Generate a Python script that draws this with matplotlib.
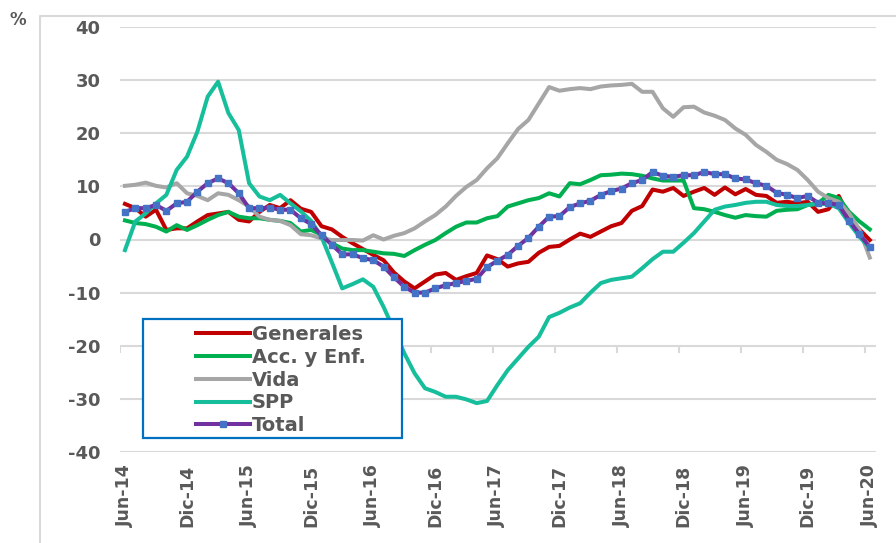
import matplotlib
matplotlib.use("Agg")
import matplotlib.pyplot as plt
from matplotlib.lines import Line2D
from matplotlib.patches import Rectangle

plt.rcParams["axes.unicode_minus"] = False

# monthly values, Jun-14 .. Jun-20 (one row per year, Jun..May)
generales = [6.7, 5.9, 4.3, 5.6, 1.8, 2.1, 2.1, 3.4, 4.6, 4.9, 5.2, 3.7,
             3.4, 5.2, 6.5, 5.9, 7.4, 5.8, 5.2, 2.5, 1.9, 0.5, -0.7, -1.8,
             -2.9, -3.9, -6.2, -7.9, -9.2, -7.9, -6.6, -6.3, -7.6, -6.9, -6.3, -3.0,
             -3.7, -5.1, -4.5, -4.2, -2.5, -1.4, -1.2, 0.0, 1.1, 0.5, 1.5, 2.5,
             3.1, 5.4, 6.3, 9.4, 9.0, 9.7, 8.2, 9.0, 9.7, 8.4, 9.8, 8.5,
             9.5, 8.4, 8.2, 6.9, 7.1, 6.8, 7.1, 5.2, 5.7, 8.2, 4.3, 1.9,
             -0.1]
acc_enf = [3.6, 3.1, 2.9, 2.4, 1.5, 2.7, 1.8, 2.7, 3.7, 4.6, 5.2, 4.3,
           4.0, 4.0, 3.7, 3.5, 3.1, 1.5, 1.8, 0.9, -0.7, -1.7, -2.0, -2.0,
           -2.3, -2.6, -2.7, -3.1, -2.0, -1.0, -0.1, 1.2, 2.4, 3.2, 3.2, 4.0,
           4.4, 6.2, 6.8, 7.4, 7.8, 8.7, 8.1, 10.6, 10.4, 11.2, 12.1, 12.2,
           12.4, 12.3, 12.0, 11.5, 11.1, 11.1, 11.1, 5.9, 5.7, 5.2, 4.6, 4.1,
           4.6, 4.4, 4.3, 5.4, 5.6, 5.7, 6.5, 6.8, 8.4, 7.8, 5.2, 3.4,
           1.9]
vida = [10.1, 10.3, 10.7, 10.1, 9.8, 10.6, 8.7, 8.2, 7.4, 8.7, 8.4, 7.4,
        6.2, 4.3, 3.7, 3.5, 2.7, 1.0, 0.8, 0.2, -0.1, -0.1, -0.1, -0.2,
        0.8, 0.0, 0.7, 1.2, 2.1, 3.4, 4.6, 6.2, 8.2, 9.9, 11.2, 13.4,
        15.3, 18.1, 20.8, 22.5, 25.6, 28.7, 28.0, 28.3, 28.5, 28.3, 28.8, 29.0,
        29.1, 29.3, 27.8, 27.8, 24.7, 23.1, 24.9, 25.0, 23.9, 23.3, 22.5, 20.9,
        19.7, 17.8, 16.5, 15.0, 14.2, 13.1, 11.2, 9.0, 7.8, 7.1, 4.9, 1.8,
        -3.4]
spp = [-2.0, 3.4, 4.9, 6.8, 8.4, 13.1, 15.6, 20.3, 26.9, 29.7, 23.8, 20.6,
       10.6, 8.1, 7.4, 8.4, 6.8, 5.3, 3.5, 0.5, -4.3, -9.2, -8.4, -7.5,
       -8.9, -12.7, -17.0, -21.4, -25.2, -28.0, -28.7, -29.6, -29.6, -30.1, -30.8, -30.4,
       -27.4, -24.6, -22.4, -20.2, -18.3, -14.6, -13.8, -12.8, -12.0, -10.0, -8.2, -7.6,
       -7.3, -7.0, -5.4, -3.7, -2.3, -2.3, -0.6, 1.2, 3.4, 5.6, 6.2, 6.5,
       6.9, 7.1, 7.1, 6.5, 6.3, 6.3, 6.5, 6.7, 6.7, 5.9, 3.1, 0.5,
       -1.6]
total = [5.2, 5.9, 5.9, 6.5, 5.4, 6.8, 7.1, 9.0, 10.6, 11.5, 10.6, 8.7,
         5.9, 5.9, 6.0, 5.6, 5.6, 4.0, 2.9, 0.8, -1.0, -2.8, -2.8, -3.5,
         -3.9, -5.1, -7.1, -8.9, -10.0, -10.0, -9.2, -8.6, -8.2, -7.8, -7.4, -5.2,
         -4.0, -2.9, -1.2, 0.3, 2.4, 4.3, 4.4, 6.1, 6.8, 7.3, 8.4, 9.1,
         9.6, 10.6, 11.2, 12.7, 12.0, 11.8, 12.1, 12.1, 12.7, 12.3, 12.3, 11.5,
         11.3, 10.6, 10.1, 8.8, 8.4, 7.8, 8.2, 6.9, 6.8, 6.5, 3.5, 1.0,
         -1.4]

tick_labels = ["Jun-14", "Dic-14", "Jun-15", "Dic-15", "Jun-16", "Dic-16", "Jun-17",
               "Dic-17", "Jun-18", "Dic-18", "Jun-19", "Dic-19", "Jun-20"]

months = list(range(len(total)))
txt = "#595959"
grid_c = "#D9D9D9"

fig = plt.figure(figsize=(8.96, 5.43), dpi=100)
ax = fig.add_axes([120 / 896, 1 - 452 / 543, 756 / 896, 425 / 543])

# outer chart border (left and top only visible)
fig.add_artist(Line2D([40 / 896, 40 / 896, 1.0], [0.0, 1 - 16 / 543, 1 - 16 / 543],
                      transform=fig.transFigure, color=grid_c, lw=1.5))

lw = 2.9
ax.plot(months, generales, color="#C00000", lw=lw, label="Generales")
ax.plot(months, acc_enf, color="#00B050", lw=lw, label="Acc. y Enf.")
ax.plot(months, vida, color="#A6A6A6", lw=lw, label="Vida")
ax.plot(months, spp, color="#17BE9B", lw=lw, label="SPP")
ax.plot(months, total, color="#7030A0", lw=lw, marker="s", ms=5,
        mfc="#4472C4", mec="#4472C4", label="Total")

ax.set_xlim(-0.48, 72.6)
ax.set_ylim(-40, 40)
ax.set_yticks(range(-40, 41, 10))
ax.set_xticks(range(0, 73, 6))
ax.set_xticklabels(tick_labels, rotation=90)
ax.tick_params(axis="y", length=0, pad=14, labelsize=13, labelcolor=txt)
ax.tick_params(axis="x", length=0, pad=9, labelsize=12.5, labelcolor=txt)
for lab in ax.get_xticklabels() + ax.get_yticklabels():
    lab.set_fontweight("bold")
for s in ax.spines.values():
    s.set_visible(False)
ax.grid(axis="y", color=grid_c, lw=1.5)
ax.set_axisbelow(True)

# small tick marks where the category axis crosses (-20)
ax.vlines([t - 0.45 for t in range(0, 73, 6)], -20, -21.3, color=grid_c, lw=1.5, zorder=1)

# legend box
ax.add_patch(Rectangle((23 / 756, 14 / 425), 259 / 756, 119 / 425, transform=ax.transAxes,
                       facecolor="white", edgecolor="#0070C0", lw=1.6, zorder=4.5))
leg = ax.legend(loc="upper left", bbox_to_anchor=(66 / 756, 137 / 425), frameon=False,
                borderpad=0, labelspacing=0.2, handlelength=2.8, handletextpad=0.1,
                numpoints=1, prop={"weight": "bold", "size": 14})
leg.set_zorder(5)
for t in leg.get_texts():
    t.set_color(txt)

fig.text(18 / 896, 1 - 20 / 543, "%", fontsize=12, fontweight="bold", color=txt,
         ha="center", va="center")

fig.savefig("out.png", dpi=100)
